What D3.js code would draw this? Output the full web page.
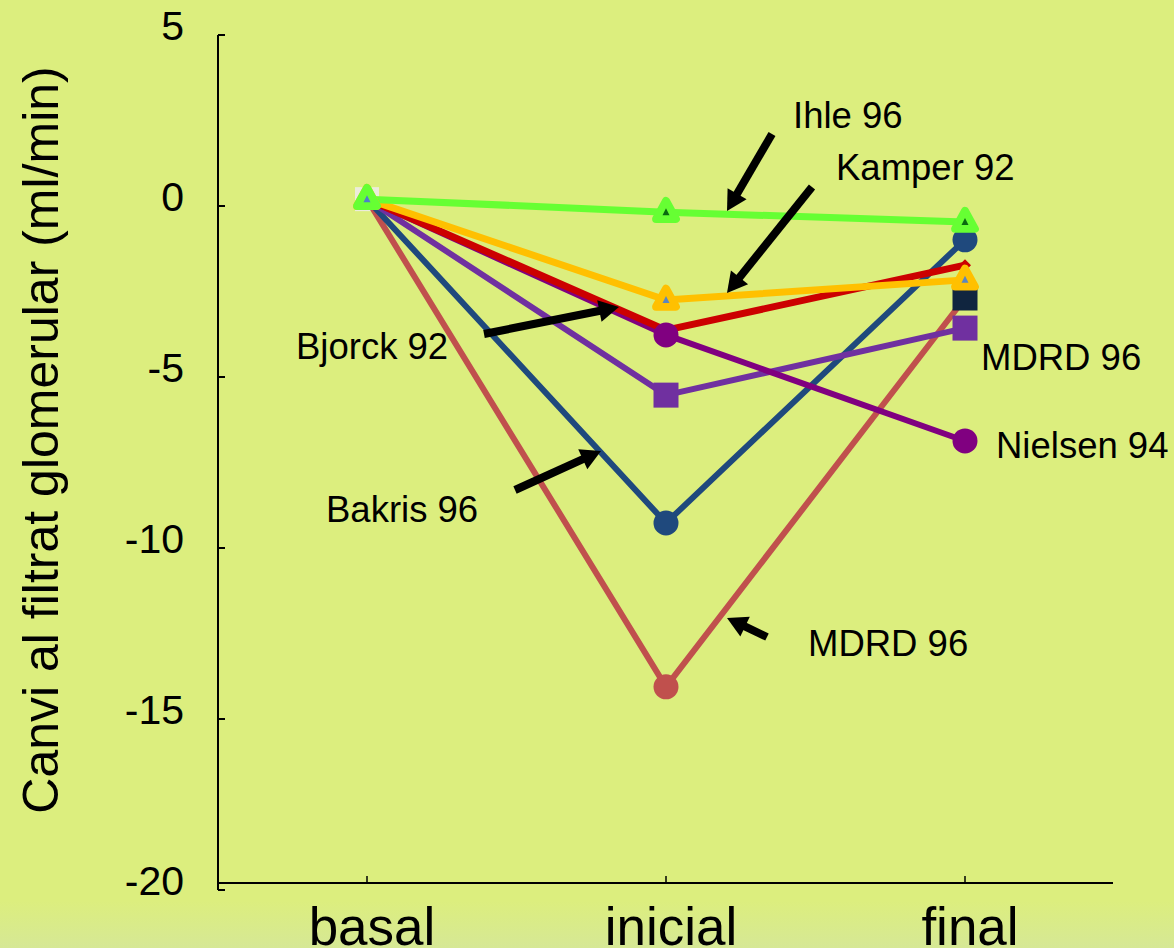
<!DOCTYPE html>
<html><head><meta charset="utf-8">
<script src="https://cdn.jsdelivr.net/npm/d3@7"></script>
<style>
html,body{margin:0;padding:0;background:#DCEE7E;}
svg{display:block;font-family:"Liberation Sans",Arial,sans-serif;}
</style></head>
<body><svg id="chart" width="1174" height="948"></svg>
<script>
// ---- data ----
const categories = ["basal", "inicial", "final"];
const yTicks = [5, 0, -5, -10, -15, -20];
const yTitle = "Canvi al filtrat glomerular (ml/min)";
const seriesNames = ["MDRD 96 (b)", "Bakris 96", "MDRD 96 (a)", "Nielsen 94", "Bjorck 92", "Kamper 92", "Ihle 96"];
const mdrdB   = [0.2, -14.06, -2.69];
const bakris  = [0.2, -9.27, -0.99];
const mdrdA   = [0.2, -5.53, -3.57];
const nielsen = [0.2, -3.77, -6.87];
const bjorck  = [0.2, -3.63, -1.73];
const kamper  = [0.2, -2.75, -2.16];
const ihle    = [0.2, -0.18, -0.47];
const annotationTexts = ["Ihle 96", "Kamper 92", "Bjorck 92", "Bakris 96", "MDRD 96", "MDRD 96", "Nielsen 94"];

// ---- styles / layout ----
const styles = [
  {color:"#C0504D", width:6, marker:"circle", markerColor:"#C0504D", lastMarker:"square", lastColor:"#10253F"},
  {color:"#1F497D", width:6, marker:"circle", markerColor:"#1F497D"},
  {color:"#7030A0", width:6, marker:"square", markerColor:"#7030A0"},
  {color:"#800080", width:6, marker:"circle", markerColor:"#800080"},
  {color:"#CC0000", width:7, marker:"diamond", markerColor:"#CC0000"},
  {color:"#FFC000", width:7, marker:"triangle", markerColor:"#FFC000", inner:"#5B86C0"},
  {color:"#66FF33", width:7, marker:"triangle", markerColor:"#66FF33", inner:"#0A6A10"}
];
const seriesValues = [mdrdB, bakris, mdrdA, nielsen, bjorck, kamper, ihle];

const svg = d3.select("#chart");
const W = 1174, H = 948;

// background with light gradient at bottom
const defs = svg.append("defs");
const grad = defs.append("linearGradient").attr("id","bg").attr("x1",0).attr("y1",0).attr("x2",0).attr("y2",1);
grad.append("stop").attr("offset","0%").attr("stop-color","#DCEE7E");
grad.append("stop").attr("offset","95%").attr("stop-color","#DCEE7E");
grad.append("stop").attr("offset","100%").attr("stop-color","#D6E895");
svg.append("rect").attr("width",W).attr("height",H).attr("fill","url(#bg)");

const x = d3.scalePoint().domain(categories).range([367, 965]);
const y = d3.scaleLinear().domain([5, -20]).range([35, 890]);

// y axis
const yAxisX = 218;
svg.append("line").attr("x1",yAxisX).attr("x2",yAxisX).attr("y1",y(5)).attr("y2",y(-20))
  .attr("stroke","#000").attr("stroke-width",2);
svg.selectAll(".yt").data(yTicks).join("line")
  .attr("x1",yAxisX).attr("x2",yAxisX+7).attr("y1",d=>y(d)).attr("y2",d=>y(d))
  .attr("stroke","#000").attr("stroke-width",2);
svg.selectAll(".yl").data(yTicks).join("text")
  .attr("x",184).attr("y",d=>y(d)-9).attr("text-anchor","end").attr("dominant-baseline","central")
  .attr("font-size",41).attr("fill","#000").text(d=>d);

// x axis
const xAxisY = 883;
svg.append("line").attr("x1",yAxisX).attr("x2",1113).attr("y1",xAxisY).attr("y2",xAxisY)
  .attr("stroke","#000").attr("stroke-width",2);
svg.selectAll(".xt").data(categories).join("line")
  .attr("x1",d=>x(d)).attr("x2",d=>x(d)).attr("y1",xAxisY).attr("y2",xAxisY-7)
  .attr("stroke","#000").attr("stroke-width",1.5);
svg.selectAll(".xl").data(categories).join("text")
  .attr("x",d=>x(d)+5).attr("y",945).attr("text-anchor","middle")
  .attr("font-size",53).attr("fill","#000").text(d=>d);

// y title
svg.append("text").attr("transform","translate(58,440) rotate(-90)")
  .attr("text-anchor","middle").attr("font-size",50).attr("fill","#000").text(yTitle);

// light square markers peeking at basal
svg.append("rect").attr("x",x("basal")-12).attr("y",y(0.2)-12).attr("width",24).attr("height",24).attr("fill","#ECECDC");

// lines
const line = d3.line().x((d,i)=>x(categories[i])).y(d=>y(d));
seriesValues.forEach((vals,si)=>{
  const st = styles[si];
  svg.append("path").attr("d",line(vals)).attr("fill","none")
    .attr("stroke",st.color).attr("stroke-width",st.width).attr("stroke-linejoin","miter");
});

function drawMarker(g, type, cx, cy, color, inner){
  if(type==="circle"){
    g.append("circle").attr("cx",cx).attr("cy",cy).attr("r",12.5).attr("fill",color);
  } else if(type==="square"){
    g.append("rect").attr("x",cx-12.5).attr("y",cy-12.5).attr("width",25).attr("height",25).attr("fill",color);
  } else if(type==="diamond"){
    g.append("path").attr("d",`M${cx},${cy-6}L${cx+6},${cy}L${cx},${cy+6}L${cx-6},${cy}Z`).attr("fill",color);
  } else if(type==="triangle"){
    const s=9;
    g.append("path").attr("d",`M${cx},${cy-s*1.25}L${cx+s*1.1},${cy+s*0.75}L${cx-s*1.1},${cy+s*0.75}Z`)
      .attr("fill",color).attr("stroke",color).attr("stroke-width",8).attr("stroke-linejoin","round");
    if(inner){
      g.append("path").attr("d",`M${cx},${cy-4}L${cx+3.5},${cy+3}L${cx-3.5},${cy+3}Z`).attr("fill",inner);
    }
  }
}

// markers, series by series in drawing order
const mk = svg.append("g");
seriesValues.forEach((vals,si)=>{
  const st = styles[si];
  vals.forEach((v,i)=>{
    if(i===0 && st.marker!=="triangle") return;
    let type = st.marker, col = st.markerColor;
    if(i===vals.length-1 && st.lastMarker){ type = st.lastMarker; col = st.lastColor; }
    if(st.marker==="diamond" && i!==vals.length-1) return;
    const inner = (i===0 && st.inner) ? "#4F7FC9" : st.inner;
    drawMarker(mk, type, x(categories[i]), y(v), col, inner);
  });
});

// annotations (layout)
const annLayout = [
  {x:793, y:128}, {x:836, y:180}, {x:296, y:359}, {x:326, y:522},
  {x:808, y:656}, {x:981, y:370}, {x:996, y:458}
];
svg.selectAll(".ann").data(annotationTexts).join("text")
  .attr("x",(d,i)=>annLayout[i].x).attr("y",(d,i)=>annLayout[i].y)
  .attr("font-size",36.5).attr("fill","#000").text(d=>d);

const arrows = [
  [772,134,727,211], [812,187,727,293], [484,334,619,307], [515,490,601,451], [767,637,727,618]
];
arrows.forEach(([x1,y1,x2,y2])=>{
  const dx=x2-x1, dy=y2-y1, L=Math.hypot(dx,dy), ux=dx/L, uy=dy/L;
  const hl=20, hw=11;
  const bx=x2-ux*hl, by=y2-uy*hl;
  svg.append("line").attr("x1",x1).attr("y1",y1).attr("x2",bx+ux*2).attr("y2",by+uy*2)
    .attr("stroke","#000").attr("stroke-width",8);
  svg.append("path").attr("d",`M${x2},${y2}L${bx-uy*hw},${by+ux*hw}L${bx+uy*hw},${by-ux*hw}Z`).attr("fill","#000");
});
</script></body></html>
